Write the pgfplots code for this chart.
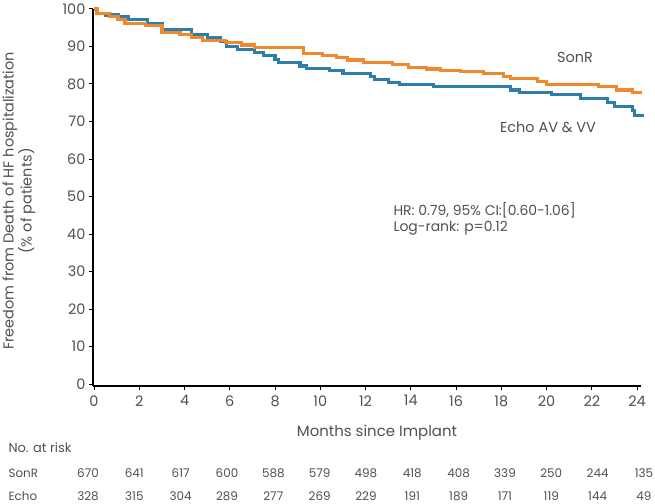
\documentclass[border=0pt]{standalone}
\usepackage{pgfplots}
\pgfplotsset{compat=1.18}
\usepackage{fontspec}
\setmainfont{Poppins}
\definecolor{sonr}{RGB}{240,137,46}
\definecolor{echo}{RGB}{46,126,170}
\definecolor{txt}{RGB}{80,80,80}
\newcommand{\px}[2]{({(#1-92.9)*1bp},{(385.9-#2)*1bp})}
\begin{document}
\begin{tikzpicture}
\useasboundingbox \px{0}{0} rectangle \px{655}{504};
\begin{axis}[
  scale only axis, width=547.6bp, height=376.9bp,
  xmin=-0.05, xmax=24.15, ymin=-0.5, ymax=100,
  axis lines=left, axis line style={black, line width=1.6bp, -},
  xtick={0,2,...,24}, ytick={0,10,...,100},
  tick align=outside, major tick length=4bp,
  tick style={black, line width=1bp},
  /pgf/number format/assume math mode=true,
  ticklabel style={font=\fontsize{14.5}{16}\selectfont, text=txt},
  xticklabel style={yshift=-2bp},
  clip=false,
]
\addplot[const plot, echo, line width=3.2bp] coordinates {
(0,100) (0.1,98.8) (0.5,98.4) (1.06,97.9) (1.5,97.2) (2.35,96.2) (3.0,94.6) (4.3,93.3) (5.0,92.5) (5.6,91.3) (5.85,89.9) (6.35,89.2) (7.1,88.3) (7.5,87.5) (8.0,86.6) (8.14,85.7) (9.1,84.8) (9.4,84.2) (10.4,83.7) (11.0,82.8) (12.2,81.9) (12.4,81.2) (13.0,80.3) (13.5,79.9) (15.0,79.3) (18.4,78.4) (18.8,77.8) (20.2,77.2) (21.5,76.2) (22.7,75.1) (23.0,73.9) (23.8,73.0) (23.9,71.7) (24.3,71.7)
};
\addplot[const plot, sonr, line width=3.2bp] coordinates {
(0,100) (0.13,98.9) (0.7,98.1) (1.06,97.2) (1.37,96.2) (2.26,95.5) (3.0,93.8) (3.8,93.3) (4.3,92.5) (4.8,91.7) (5.8,91.0) (6.5,90.4) (7.1,89.7) (9.25,88.2) (10.1,87.5) (10.7,87.0) (11.2,86.4) (11.9,85.7) (13.2,85.1) (13.9,84.5) (14.7,84.0) (15.3,83.6) (16.2,83.3) (17.2,82.8) (18.1,82.1) (18.4,81.5) (19.6,80.7) (20.0,79.9) (22.3,79.3) (23.1,78.4) (23.8,77.8) (24.2,77.8)
};
\end{axis}
\begin{scope}[every node/.style={text=txt}]
\node[font=\fontsize{14.5}{16}\selectfont] at \px{575}{57} {SonR};
\node[font=\fontsize{14.5}{16}\selectfont] at \px{548}{127} {Echo AV \& VV};
\node[font=\fontsize{14}{17}\selectfont, anchor=west] at \px{390}{210} {HR: 0.79, 95\% CI:[0.60-1.06]};
\node[font=\fontsize{14}{17}\selectfont, anchor=west] at \px{390}{228} {Log-rank: p=0.12};
\node[font=\fontsize{14.5}{18}\selectfont, rotate=90, align=center] at \px{19}{201} {Freedom from Death of HF hospitalization\\(\% of patients)};
\node[font=\fontsize{15}{17}\selectfont] at \px{377}{433} {Months since Implant};
\node[font=\fontsize{13}{15}\selectfont, anchor=west] at \px{5}{448} {No. at risk};
\node[font=\fontsize{12}{14}\selectfont, anchor=west] at \px{5}{473} {SonR};
\node[font=\fontsize{12}{14}\selectfont, anchor=west] at \px{5}{496} {Echo};
\foreach \a/\b [count=\i from 0] in {670/328,641/315,617/304,600/289,588/277,579/269,498/229,418/191,408/189,339/171,250/119,244/144,135/49}{
  \node[font=\fontsize{12}{14}\selectfont] at \px{88+46.33*\i}{473} {\a};
  \node[font=\fontsize{12}{14}\selectfont] at \px{88+46.33*\i}{496} {\b};
}
\end{scope}
\end{tikzpicture}
\end{document}
